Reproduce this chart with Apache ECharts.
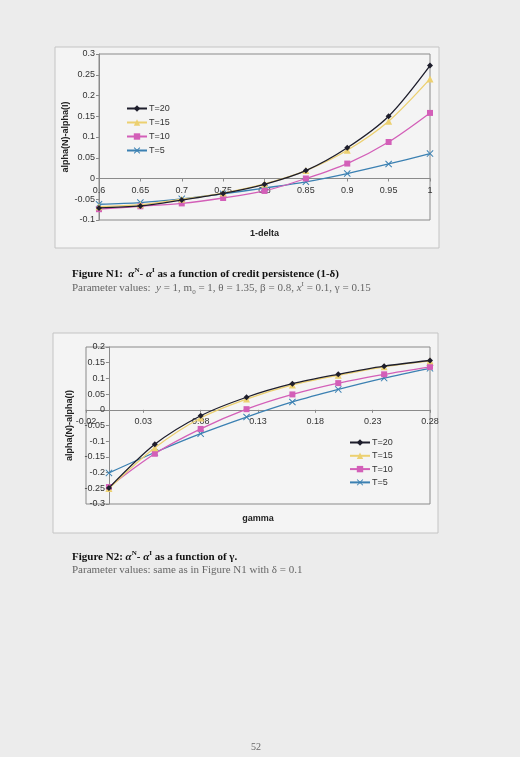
<!DOCTYPE html>
<html>
<head>
<meta charset="utf-8">
<script src="https://cdn.jsdelivr.net/npm/echarts@6/dist/echarts.min.js"></script>
<style>
  html, body { margin: 0; padding: 0; background: #ececec; }
  #page { position: relative; width: 520px; height: 757px; background: #ececec; overflow: hidden; }
  #chart { position: absolute; left: 0; top: 0; width: 520px; height: 757px; }
  .cap { position: absolute; left: 72px; font-family: "Liberation Serif", serif; font-size: 11px; white-space: nowrap; }
  .cap b { color: #111; }
  .sub { color: #666; }
</style>
</head>
<body>
<div id="page">
  <div id="chart"></div>
  <div class="cap" style="top:266px"><b>Figure N1:&nbsp; <i>α</i><sup style="font-size:7px">N</sup>- <i>α</i><sup style="font-size:7px">I</sup> as a function of credit persistence (1-δ)</b></div>
  <div class="cap sub" style="top:280px">Parameter values:&nbsp; <i>y</i> = 1, m<sub style="font-size:7px">0</sub> = 1, θ = 1.35, β = 0.8, <i>x</i><sup style="font-size:7px">I</sup> = 0.1, γ = 0.15</div>
  <div class="cap" style="top:549px"><b>Figure N2: <i>α</i><sup style="font-size:7px">N</sup>- <i>α</i><sup style="font-size:7px">I</sup> as a function of γ.</b></div>
  <div class="cap sub" style="top:563px">Parameter values: same as in Figure N1 with δ = 0.1</div>
  <div class="cap sub" style="top:741px;left:251px;font-size:10px">52</div>
</div>
<script>
// figure N1: x = 1-delta
const delta1 = [0.6, 0.65, 0.7, 0.75, 0.8, 0.85, 0.9, 0.95, 1];
const n1T20 = [-0.071, -0.066, -0.052, -0.036, -0.014, 0.019, 0.074, 0.150, 0.272];
const n1T15 = [-0.068, -0.063, -0.050, -0.035, -0.013, 0.019, 0.068, 0.138, 0.240];
const n1T10 = [-0.074, -0.067, -0.060, -0.047, -0.030, 0.000, 0.036, 0.088, 0.158];
const n1T5  = [-0.062, -0.058, -0.049, -0.037, -0.023, -0.008, 0.012, 0.035, 0.060];

// figure N2: x = gamma
const gamma2 = [0, 0.04, 0.08, 0.12, 0.16, 0.20, 0.24, 0.28];
const n2T20 = [-0.249, -0.110, -0.019, 0.040, 0.083, 0.113, 0.139, 0.157];
const n2T15 = [-0.251, -0.121, -0.026, 0.034, 0.079, 0.110, 0.137, 0.156];
const n2T10 = [-0.246, -0.140, -0.061, 0.002, 0.049, 0.085, 0.113, 0.137];
const n2T5  = [-0.201, -0.136, -0.076, -0.023, 0.025, 0.065, 0.101, 0.132];

const names = ['T=20', 'T=15', 'T=10', 'T=5'];
const colors = ['#1e1e2c', '#ecd070', '#d35fb8', '#3b80b2'];
const crossPath = 'path://M0,1L1,0L5,4L9,0L10,1L6,5L10,9L9,10L5,6L1,10L0,9L4,5Z';
const symbols = ['diamond', 'triangle', 'rect', crossPath];
const symbolSizes = [6, 7, 6, 7];

const font = 'Liberation Sans, Arial, sans-serif';
const axisGray = '#8a8a8a';

const pairs = (xs, ys) => xs.map((x, i) => [x, ys[i]]);

const makeSeries = (idx, xs, ysList) => ysList.map((ys, i) => ({
  name: names[i],
  type: 'line',
  xAxisIndex: idx,
  yAxisIndex: idx,
  data: pairs(xs, ys),
  smooth: 0.3,
  symbol: symbols[i],
  symbolSize: symbolSizes[i],
  lineStyle: { color: colors[i], width: 1.3 },
  itemStyle: { color: colors[i] },
  z: 10 - i
}));

const valueAxisBase = {
  type: 'value',
  axisLine: { onZero: false, lineStyle: { color: axisGray, width: 1 } },
  axisTick: { show: true, length: 3, lineStyle: { color: axisGray } },
  splitLine: { show: false },
  axisLabel: { color: '#333', fontSize: 9, fontFamily: font, margin: 4 },
  nameMoveOverlap: false,
  nameTextStyle: { color: '#222', fontSize: 9, fontWeight: 'bold', fontFamily: font }
};

const chart = echarts.init(document.getElementById('chart'));

chart.setOption({
  animation: false,
  backgroundColor: 'transparent',
  graphic: [
    { type: 'rect', shape: { x: 55, y: 47, width: 384, height: 201 }, style: { fill: '#f4f4f4', stroke: '#c4c4c4', lineWidth: 1 }, z: -10 },
    { type: 'rect', shape: { x: 53, y: 333, width: 385, height: 200 }, style: { fill: '#f4f4f4', stroke: '#c4c4c4', lineWidth: 1 }, z: -10 }
  ],
  grid: [
    { left: 99, top: 54, width: 331, height: 166, show: true, borderColor: axisGray, borderWidth: 1, backgroundColor: 'transparent' },
    { left: 86, top: 347, width: 344, height: 157, show: true, borderColor: axisGray, borderWidth: 1, backgroundColor: 'transparent' }
  ],
  legend: [
    {
      data: names, orient: 'vertical', left: 126, top: 104, padding: 0,
      itemWidth: 20, itemHeight: 8, itemGap: 5,
      textStyle: { color: '#333', fontSize: 9, fontFamily: font, padding: [0, 0, 0, -3] }
    },
    {
      data: names, orient: 'vertical', left: 349, top: 438, padding: 0,
      itemWidth: 20, itemHeight: 8, itemGap: 4.3,
      textStyle: { color: '#333', fontSize: 9, fontFamily: font, padding: [0, 0, 0, -3] }
    }
  ],
  xAxis: [
    // axis sits on y = 0 (bottom edge 220, zero at 178.5)
    Object.assign({}, valueAxisBase, {
      gridIndex: 0, min: 0.6, max: 1, interval: 0.05, position: 'bottom', offset: -41.5,
      name: '1-delta', nameLocation: 'middle', nameGap: 51,
      axisLabel: Object.assign({}, valueAxisBase.axisLabel, { margin: 8 })
    }),
    // zero at 409.8, bottom edge 504
    Object.assign({}, valueAxisBase, {
      gridIndex: 1, min: -0.02, max: 0.28, interval: 0.05, position: 'bottom', offset: -94.2,
      name: 'gamma', nameLocation: 'middle', nameGap: 104,
      axisLabel: Object.assign({}, valueAxisBase.axisLabel, { margin: 7 })
    })
  ],
  yAxis: [
    Object.assign({}, valueAxisBase, {
      gridIndex: 0, min: -0.1, max: 0.3, interval: 0.05,
      name: 'alpha(N)-alpha(I)', nameLocation: 'middle', nameGap: 29
    }),
    // y axis crosses at gamma = 0 (x = 108.9)
    Object.assign({}, valueAxisBase, {
      gridIndex: 1, min: -0.3, max: 0.2, interval: 0.05, position: 'left', offset: -22.9,
      name: 'alpha(N)-alpha(I)', nameLocation: 'middle', nameGap: 35
    })
  ],
  series: [
    ...makeSeries(0, delta1, [n1T20, n1T15, n1T10, n1T5]),
    ...makeSeries(1, gamma2, [n2T20, n2T15, n2T10, n2T5])
  ]
});
</script>
</body>
</html>
